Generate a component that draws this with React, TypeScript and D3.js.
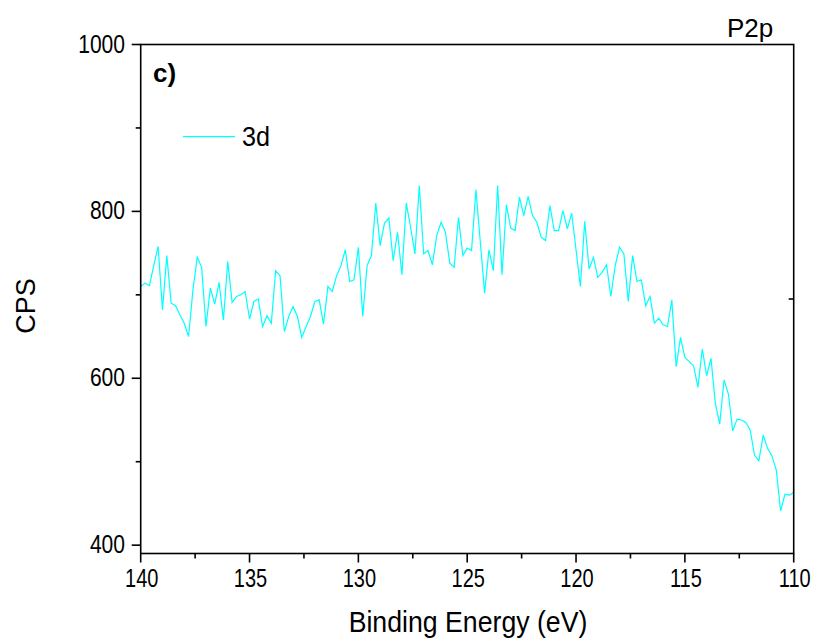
import React from "react";
import * as d3 from "d3";

// ---- data ----
const energyStart = 140;
const energyStep = 0.2;
const cps3d: number[] = [
  710, 714, 711, 735, 758, 682, 747, 690, 687, 676, 666, 650, 706, 745, 733, 662, 708, 689, 715, 670,
  740, 691, 698, 700, 704, 671, 692, 695, 662, 675, 666, 729, 723, 656, 674, 686, 674, 649, 662,
  674, 692, 694, 665, 710, 704, 723, 735, 754, 716, 718, 757, 674, 735, 747, 810, 759, 786, 792, 741,
  775, 724, 810, 781, 749, 831, 749, 753, 736, 771, 787, 775, 738, 733, 793, 747, 756,
  753, 826, 764, 702, 754, 729, 831, 724, 808, 780, 777, 817, 795, 818, 795, 787, 769, 765, 807,
  777, 777, 801, 779, 798, 754, 710, 788, 731, 745, 721, 727, 736, 698, 735, 757, 749, 692,
  747, 716, 718, 687, 698, 666, 672, 664, 662, 694, 614, 649, 625, 620, 615, 589, 635, 603, 624,
  570, 545, 598, 581, 537, 551, 550, 547, 538, 508, 501, 532, 516, 507, 490, 441, 461, 460, 463,
];
const xMajorTicks = [140, 135, 130, 125, 120, 115, 110];
const xMinorTicks = [137.5, 132.5, 127.5, 122.5, 117.5, 112.5];
const yMajorTicks = [400, 600, 800, 1000];
const yMinorTicks = [500, 700, 900];
const rightTicks = [695];
const seriesName = "3d";
const panelLabel = "c)";
const cornerLabel = "P2p";
const xTitle = "Binding Energy (eV)";
const yTitle = "CPS";

export default function App() {
  const W = 820, H = 642;
  const left = 140.7, right = 793.7, top = 44.5, bottom = 553.5;
  const x = d3.scaleLinear().domain([140, 110]).range([left, right]);
  const y = d3.scaleLinear().domain([390, 1000]).range([bottom, top]);
  const pts = cps3d.map((v, i) => [energyStart - energyStep * i, v] as [number, number]);
  const line = d3.line<[number, number]>().x((d) => x(d[0])).y((d) => y(d[1]));
  const font = "'Liberation Sans', Arial, sans-serif";
  const cyan = "#00FFFF";
  return (
    <svg width={W} height={H} style={{ position: "absolute", left: 0, top: 0, background: "#fff" }}>
      <defs>
        <clipPath id="plotclip">
          <rect x={left} y={top} width={right - left} height={bottom - top} />
        </clipPath>
      </defs>
      <rect x={0} y={0} width={W} height={H} fill="#fff" />
      <path d={line(pts) || ""} fill="none" stroke={cyan} strokeWidth={1.2} clipPath="url(#plotclip)" />
      <rect x={left} y={top} width={right - left} height={bottom - top} fill="none" stroke="#000" strokeWidth={1.6} />
      {xMajorTicks.map((t) => (
        <g key={"xm" + t}>
          <line x1={x(t)} x2={x(t)} y1={bottom} y2={bottom + 9} stroke="#000" strokeWidth={1.6} />
          <text x={0} y={0} transform={`translate(${x(t) + 1},587) scale(0.8,1)`} textAnchor="middle" fontFamily={font} fontSize={25} fill="#000">
            {t}
          </text>
        </g>
      ))}
      {xMinorTicks.map((t) => (
        <line key={"xn" + t} x1={x(t)} x2={x(t)} y1={bottom} y2={bottom + 5} stroke="#000" strokeWidth={1.6} />
      ))}
      {yMajorTicks.map((t) => (
        <g key={"ym" + t}>
          <line x1={left - 9} x2={left} y1={y(t)} y2={y(t)} stroke="#000" strokeWidth={1.6} />
          <text x={0} y={0} transform={`translate(125,${y(t) + 8}) scale(0.81,1)`} textAnchor="end" fontFamily={font} fontSize={26} fill="#000">
            {t}
          </text>
        </g>
      ))}
      {yMinorTicks.map((t) => (
        <line key={"yn" + t} x1={left - 5} x2={left} y1={y(t)} y2={y(t)} stroke="#000" strokeWidth={1.6} />
      ))}
      {rightTicks.map((t) => (
        <line key={"rt" + t} x1={right - 5} x2={right} y1={y(t)} y2={y(t)} stroke="#000" strokeWidth={1.6} />
      ))}
      <text x={0} y={0} transform={`translate(468,632) scale(0.92,1)`} textAnchor="middle" fontFamily={font} fontSize={29} fill="#000">
        {xTitle}
      </text>
      <text x={0} y={0} transform={`translate(35,306) rotate(-90)`} textAnchor="middle" fontFamily={font} fontSize={27} fill="#000">
        {yTitle}
      </text>
      <text x={153} y={82} fontFamily={font} fontSize={26} fontWeight="bold" fill="#000">
        {panelLabel}
      </text>
      <text x={727} y={37} fontFamily={font} fontSize={26} fill="#000">
        {cornerLabel}
      </text>
      <line x1={183} x2={235} y1={136.7} y2={136.7} stroke={cyan} strokeWidth={1.2} />
      <text x={0} y={0} transform={`translate(242,146) scale(0.9,1)`} fontFamily={font} fontSize={28} fill="#000">
        {seriesName}
      </text>
    </svg>
  );
}
